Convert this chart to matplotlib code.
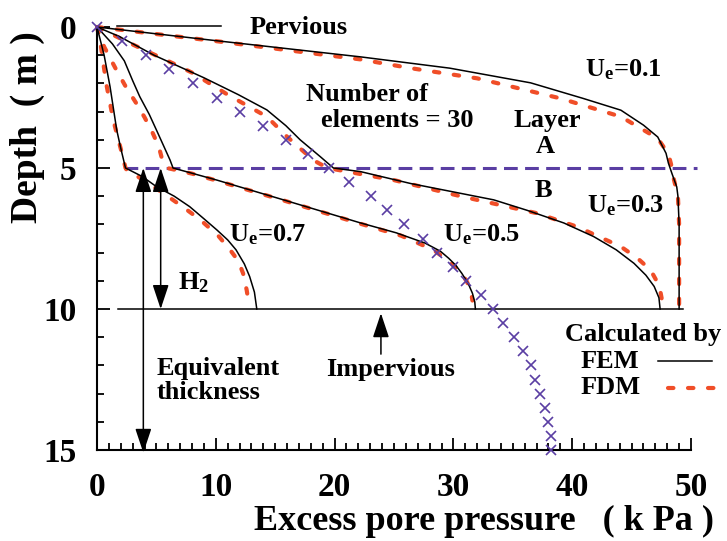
import numpy as np
import matplotlib
matplotlib.use('Agg')
import matplotlib.pyplot as plt
from matplotlib.ticker import MultipleLocator

plt.rcParams['font.family'] = ['Liberation Serif', 'DejaVu Serif']
plt.rcParams['font.weight'] = 'bold'
plt.rcParams['mathtext.fontset'] = 'custom'
plt.rcParams['mathtext.rm'] = 'Liberation Serif:bold'
plt.rcParams['mathtext.it'] = 'Liberation Serif:bold'
plt.rcParams['mathtext.bf'] = 'Liberation Serif:bold'

RED = '#f04e28'
PURPLE = '#5a3ea3'

# ---- FEM profiles (depth m, excess pore pressure kPa) ----
fem_z_01 = [0, 0.46, 1.06, 1.46, 1.98, 2.53, 2.95, 3.48, 3.9, 4.48, 4.83, 5.2, 5.67, 6.0, 7.0, 8.0, 9.0, 10.0]
fem_u_01 = [0, 9.5, 22.2, 29.7, 36.5, 40.9, 44.1, 46.0, 47.2, 47.9, 48.1, 48.4, 48.8, 48.9, 49.0, 49.0, 49.0, 49.0]
fem_z_03 = [0, 0.34, 1.0, 1.8, 2.4, 2.94, 3.5, 4.0, 4.6, 5.0, 5.13, 5.55, 6.13, 6.5, 6.95, 7.43, 7.9, 8.38, 8.8, 9.2, 9.6, 10.0]
fem_u_03 = [0, 1.9, 4.8, 9.0, 11.9, 14.3, 15.9, 17.1, 18.8, 19.9, 22.2, 26.4, 33.4, 36.2, 39.3, 41.8, 43.7, 45.2, 46.2, 46.9, 47.3, 47.4]
fem_z_05 = [0, 0.6, 1.2, 1.9, 2.47, 3.1, 3.65, 4.3, 4.72, 5.0, 5.43, 6.13, 6.95, 7.3, 7.66, 7.95, 8.2, 8.45, 8.73, 9.1, 9.44, 9.75, 10.0]
fem_u_05 = [0, 1.3, 2.3, 3.0, 3.6, 4.4, 5.0, 5.7, 6.15, 6.4, 10.1, 15.7, 22.2, 25.2, 27.6, 28.9, 29.6, 30.2, 30.7, 31.25, 31.6, 31.8, 31.85]
fem_z_07 = [0, 1.0, 2.12, 3.65, 4.3, 5.0, 5.3, 5.66, 6.0, 6.37, 6.8, 7.2, 7.55, 7.9, 8.4, 8.85, 9.4, 10.0]
fem_u_07 = [0, 0.6, 1.1, 1.66, 2.0, 2.4, 3.8, 5.0, 6.5, 7.8, 9.0, 10.1, 11.0, 11.7, 12.4, 12.85, 13.25, 13.45]

# ---- FDM profiles ----
fdm_z_01 = [0, 0.5, 1.15, 1.46, 1.82, 2.53, 3.18, 3.95, 4.5, 5.0, 5.3, 6.0, 7.0, 8.0, 9.0, 10.0]
fdm_u_01 = [0, 10.0, 22.2, 26.4, 32.0, 39.0, 44.1, 47.2, 48.1, 48.4, 48.5, 48.9, 49.0, 49.0, 49.0, 49.0]
fdm_z_03 = [0, 0.64, 1.29, 1.64, 2.4, 3.18, 3.89, 4.72, 5.0, 5.2, 5.43, 6.0, 6.6, 7.08, 7.79, 8.2, 8.62, 9.0, 9.33, 10.0]
fdm_u_03 = [0, 3.1, 6.4, 8.1, 11.0, 14.3, 16.0, 18.2, 19.4, 22.0, 25.0, 30.6, 37.0, 40.4, 44.1, 45.5, 46.6, 47.1, 47.4, 47.7]
fdm_z_05 = [0, 0.7, 1.5, 2.1, 2.7, 3.2, 3.77, 4.24, 4.72, 5.0, 5.2, 5.45, 6.15, 6.98, 7.4, 7.9, 8.3, 8.6, 9.0, 9.3, 9.7]
fdm_u_05 = [0, 0.6, 1.6, 2.4, 3.3, 4.0, 4.7, 5.2, 5.5, 5.9, 8.0, 10.1, 15.7, 22.2, 25.6, 28.3, 29.6, 30.4, 31.1, 31.45, 31.6]
fdm_z_07 = [0, 0.6, 1.2, 2.1, 3.3, 4.48, 5.0, 5.07, 5.5, 5.9, 6.4, 6.84, 7.4, 7.9, 8.3, 8.74, 9.33, 9.6]
fdm_u_07 = [0, 0.3, 0.5, 0.82, 1.37, 2.1, 2.4, 2.5, 4.2, 5.6, 7.3, 8.7, 10.2, 11.2, 11.9, 12.3, 12.6, 12.7]

# ---- equivalent single layer, 30 elements ----
eq_z = [0, 0.5, 1.0, 1.5, 2.0, 2.5, 3.0, 3.5, 4.0, 4.5, 5.0, 5.5, 6.0, 6.5, 7.0, 7.5,
        8.0, 8.5, 9.0, 9.5, 10.0, 10.5, 11.0, 11.5, 12.0, 12.5, 13.0, 13.5, 14.0, 14.5, 15.0]
eq_u = [0, 2.1, 4.1, 6.1, 8.1, 10.1, 12.0, 14.0, 15.9, 17.8, 19.5, 21.2, 23.1, 24.4, 25.8, 27.4,
        28.6, 30.0, 31.1, 32.3, 33.3, 34.2, 35.1, 35.9, 36.5, 36.9, 37.3, 37.7, 38.0, 38.2, 38.2]

fig = plt.figure(figsize=(7.27, 5.41), dpi=100)
ax = fig.add_axes([97 / 727, 1 - 450 / 541, 594 / 727, 423 / 541])
ax.set_xlim(0, 50)
ax.set_ylim(15, 0)

fem_kw = dict(color='black', lw=1.1, clip_on=False, zorder=3)
fdm_kw = dict(color=RED, lw=3.0, ls=(0, (1.3, 3.5)), dash_capstyle='round', clip_on=False, zorder=2)
for u, z in [(fem_u_01, fem_z_01), (fem_u_03, fem_z_03), (fem_u_05, fem_z_05), (fem_u_07, fem_z_07)]:
    ax.plot(u, z, **fem_kw)
for u, z in [(fdm_u_01, fdm_z_01), (fdm_u_03, fdm_z_03), (fdm_u_05, fdm_z_05), (fdm_u_07, fdm_z_07)]:
    ax.plot(u, z, **fdm_kw)
ax.plot(eq_u, eq_z, ls='none', marker='x', ms=7, mew=1.2, color=PURPLE, clip_on=False, zorder=4)

# layer boundary, impervious base, pervious top
ax.plot([2.3, 50.5], [5, 5], color=PURPLE, lw=2.2, ls=(0, (4.5, 2.4)), clip_on=False, zorder=1)
ax.plot([1.8, 49.3], [10, 10], color='black', lw=1.1, clip_on=False)
ax.plot([1.7, 10.4], [-0.05, -0.05], color='black', lw=1.1, clip_on=False)

arrow = dict(arrowstyle='<|-|>,head_length=0.75,head_width=0.25', color='black', lw=1.1,
             shrinkA=0, shrinkB=0, mutation_scale=20)
ax.annotate('', xy=(3.9, 15.1), xytext=(3.9, 5.0), arrowprops=arrow, annotation_clip=False)
ax.annotate('', xy=(5.36, 10.0), xytext=(5.36, 5.0), arrowprops=arrow, annotation_clip=False)
up = dict(arrow, arrowstyle='-|>,head_length=0.75,head_width=0.25')
ax.annotate('', xy=(23.9, 10.15), xytext=(23.9, 11.6), arrowprops=up, annotation_clip=False)

fs = 19
ax.text(17.0, 0.0, 'Pervious', fontsize=fs, ha='center', va='center')
ax.text(44.3, 1.5, r'U$_{\mathrm{e}}$=0.1', fontsize=fs, ha='center', va='center')
ax.text(22.7, 2.4, 'Number of', fontsize=fs, ha='center', va='center')
ax.text(25.3, 3.3, 'elements = 30', fontsize=fs, ha='center', va='center')
ax.text(37.9, 3.3, 'Layer', fontsize=fs, ha='center', va='center')
ax.text(37.7, 4.25, 'A', fontsize=fs, ha='center', va='center')
ax.text(37.6, 5.8, 'B', fontsize=fs, ha='center', va='center')
ax.text(44.5, 6.35, r'U$_{\mathrm{e}}$=0.3', fontsize=fs, ha='center', va='center')
ax.text(32.4, 7.35, r'U$_{\mathrm{e}}$=0.5', fontsize=fs, ha='center', va='center')
ax.text(14.4, 7.35, r'U$_{\mathrm{e}}$=0.7', fontsize=fs, ha='center', va='center')
ax.text(8.1, 9.05, r'H$_{\mathrm{2}}$', fontsize=fs, ha='center', va='center')
ax.text(5.0, 12.1, 'Equivalent', fontsize=fs, ha='left', va='center')
ax.text(5.0, 12.95, 'thickness', fontsize=fs, ha='left', va='center')
ax.text(24.7, 12.15, 'Impervious', fontsize=fs, ha='center', va='center')

# legend drawn by hand
ax.text(46.0, 10.9, 'Calculated by', fontsize=fs, ha='center', va='center', clip_on=False)
ax.text(43.2, 11.85, 'FEM', fontsize=fs, ha='center', va='center', clip_on=False)
ax.text(43.2, 12.8, 'FDM', fontsize=fs, ha='center', va='center', clip_on=False)
ax.plot([47.2, 51.8], [11.85, 11.85], color='black', lw=1.1, clip_on=False)
ax.plot([48.1, 52.0], [12.8, 12.8], **fdm_kw)

for s in ['top', 'right']:
    ax.spines[s].set_visible(False)
for s in ['left', 'bottom']:
    ax.spines[s].set_linewidth(1.5)
ax.xaxis.set_major_locator(MultipleLocator(10))
ax.xaxis.set_minor_locator(MultipleLocator(1))
ax.yaxis.set_major_locator(MultipleLocator(5))
ax.yaxis.set_minor_locator(MultipleLocator(1))
ax.tick_params(which='both', direction='in', width=1.3)
ax.tick_params(which='major', length=9)
ax.tick_params(which='minor', length=5)
ax.tick_params(axis='x', which='major', labelsize=24, pad=16)
ax.tick_params(axis='y', which='major', labelsize=24, pad=15)
for lab in ax.get_xticklabels() + ax.get_yticklabels():
    lab.set_fontweight('bold')

fig.text(484 / 727, 1 - 521 / 541, 'Excess pore pressure   ( k Pa )', fontsize=26,
         ha='center', va='center')
fig.text(27 / 727, 1 - 127 / 541, 'Depth  ( m )', fontsize=27, rotation=90,
         ha='center', va='center')

fig.savefig('out.png', dpi=100)
